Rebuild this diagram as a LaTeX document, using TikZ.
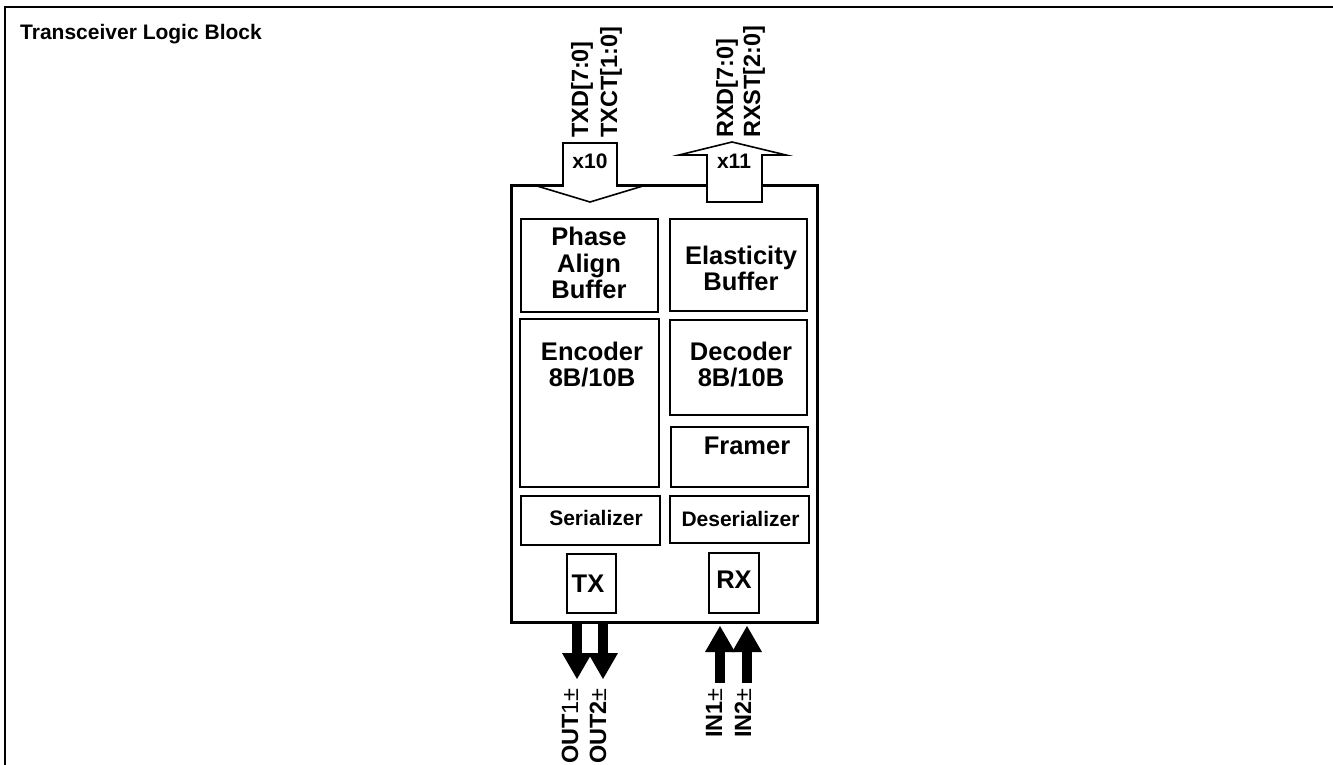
\documentclass[tikz,border=0pt]{standalone}
\usepackage{fontspec}
\setmainfont{Liberation Sans}
\usetikzlibrary{arrows.meta}
\tikzset{
  frame/.style={line width=2pt},
  blk/.style={draw, line width=3pt, inner sep=0pt},
  sub/.style={draw, line width=2pt, inner sep=0pt},
  hol/.style={draw, fill=white, line width=1.6pt, line join=miter},
  thk/.style={line width=10pt, -{Triangle[length=26pt, width=30pt, line width=0pt]}},
  lbl/.style={inner sep=0pt, align=center, font=\fontsize{25.5}{26.5}\selectfont\bfseries},
  sml/.style={inner sep=0pt, font=\fontsize{21}{21}\selectfont\bfseries},
  rot/.style={rotate=90, inner sep=0pt, font=\fontsize{23.5}{23.5}\selectfont\bfseries},
}
\begin{document}
\begin{tikzpicture}[x=1pt, y=-1pt]
\useasboundingbox (0,0) rectangle (1333,765);
% outer frame
\draw[frame] (5,765) -- (5,7) -- (1333,7);
\node[anchor=base west, inner sep=0pt, font=\fontsize{21}{21}\selectfont\bfseries] (title) at (20,39.5) {Transceiver Logic Block};

% main block
\node[blk, minimum width=306pt, minimum height=437pt] (block) at (664,403.5) {};

% hollow bus arrows
\draw[hol] (563,143) -- (617,143) -- (617,186) -- (643,186) -- (590,202) -- (537,186) -- (563,186) -- cycle;
\draw[hol] (707,202) -- (762,202) -- (762,155) -- (786,155) -- (732,142) -- (679,155) -- (707,155) -- cycle;
\node[sml] (x10) at (590,161) {x10};
\node[sml] (x11) at (734,161) {x11};

% bus labels
\node[rot, anchor=base west] (ltxd) at (588,138) {TXD[7:0]};
\node[rot, anchor=base west] (ltxct) at (617,138) {TXCT[1:0]};
\node[rot, anchor=base west] (lrxd) at (733,138) {RXD[7:0]};
\node[rot, anchor=base west] (lrxst) at (760,138) {RXST[2:0]};

% inner boxes
\node[sub, minimum width=137pt, minimum height=93pt] (pab) at (589.5,265.5) {};
\node[sub, minimum width=137pt, minimum height=92pt] (elb) at (738.5,265) {};
\node[sub, minimum width=139pt, minimum height=168pt] (enc) at (589.5,403) {};
\node[sub, minimum width=137pt, minimum height=95pt] (dec) at (738.5,367.5) {};
\node[sub, minimum width=137pt, minimum height=60pt] (frm) at (739.5,457) {};
\node[sub, minimum width=139pt, minimum height=49pt] (ser) at (590.5,520.5) {};
\node[sub, minimum width=139pt, minimum height=47pt] (des) at (739.5,519.5) {};
\node[sub, minimum width=49pt, minimum height=59pt] (tx) at (591.5,583.5) {};
\node[sub, minimum width=50pt, minimum height=60pt] (rx) at (734,583) {};

% inner texts
\node[lbl] (tpab) at (589,263.3) {Phase\\Align\\Buffer};
\node[lbl] (telb) at (741,268.4) {Elasticity\\Buffer};
\node[lbl] (tenc) at (592,364.4) {Encoder\\8B/10B};
\node[lbl] (tdec) at (741,364.4) {Decoder\\8B/10B};
\node[lbl] (tfrm) at (747,446) {Framer};
\node[sml] (tser) at (596,518) {Serializer};
\node[sml] (tdes) at (740.5,519) {Deserializer};
\node[lbl] (ttx) at (588,584) {TX};
\node[lbl] (trx) at (734,580) {RX};

% serial line arrows
\coordinate (o1a) at (577,622); \coordinate (o1b) at (577,679);
\coordinate (o2a) at (603,622); \coordinate (o2b) at (603,679);
\coordinate (i1a) at (720,683); \coordinate (i1b) at (720,626);
\coordinate (i2a) at (747,683); \coordinate (i2b) at (747,626);
\draw[thk] (o1a) -- (o1b);
\draw[thk] (o2a) -- (o2b);
\draw[thk] (i1a) -- (i1b);
\draw[thk] (i2a) -- (i2b);

% serial labels
\node[rot, anchor=base east] (lout1) at (578,688) {OUT{\mdseries 1±}};
\node[rot, anchor=base east] (lout2) at (606,688) {OUT2{\mdseries ±}};
\node[rot, anchor=base east] (lin1) at (722,688) {IN1{\mdseries ±}};
\node[rot, anchor=base east] (lin2) at (751,688) {IN2{\mdseries ±}};
\end{tikzpicture}
\end{document}
